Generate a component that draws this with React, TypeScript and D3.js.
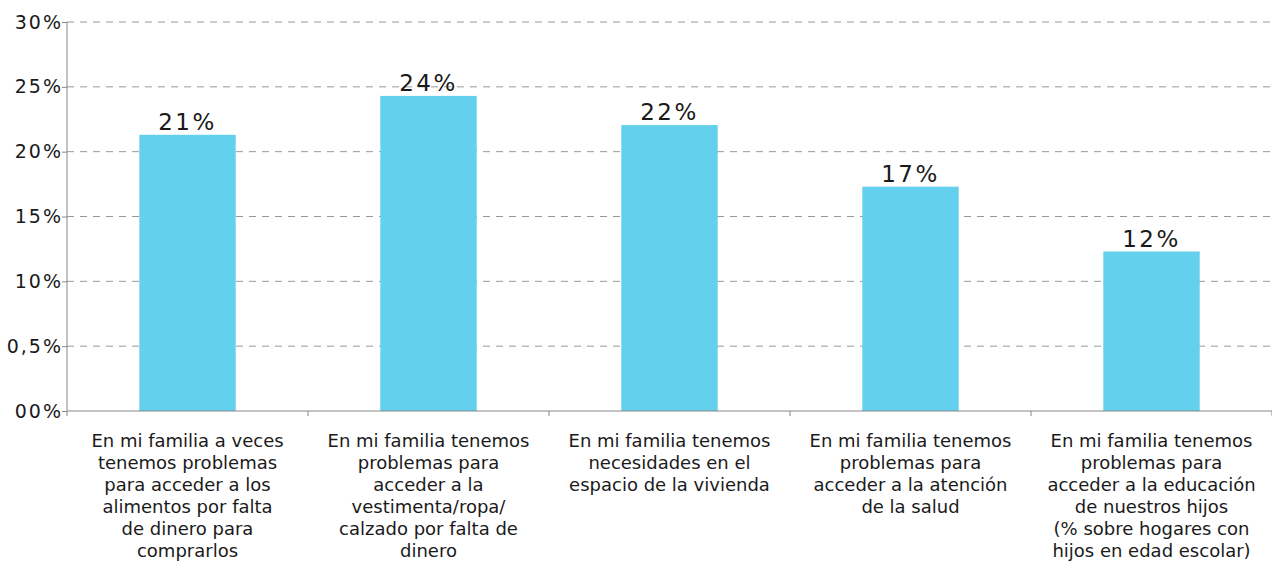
import React, { useEffect, useRef } from 'react';
import * as d3 from 'd3';

const categories = [
  ['En mi familia a veces', 'tenemos problemas', 'para acceder a los', 'alimentos por falta', 'de dinero para', 'comprarlos'],
  ['En mi familia tenemos', 'problemas para', 'acceder a la', 'vestimenta/ropa/', 'calzado por falta de', 'dinero'],
  ['En mi familia tenemos', 'necesidades en el', 'espacio de la vivienda'],
  ['En mi familia tenemos', 'problemas para', 'acceder a la atención', 'de la salud'],
  ['En mi familia tenemos', 'problemas para', 'acceder a la educación', 'de nuestros hijos', '(% sobre hogares con', 'hijos en edad escolar)'],
];
const values = [21.3, 24.3, 22.05, 17.3, 12.3];
const valueLabels = ['21%', '24%', '22%', '17%', '12%'];
const yTicks = [0, 5, 10, 15, 20, 25, 30];
const yTickLabels = ['00%', '0,5%', '10%', '15%', '20%', '25%', '30%'];

const W = 1272;
const H = 568;
const margin = { top: 22, right: 0, bottom: 157, left: 67 };

const App = () => {
  const ref = useRef<SVGSVGElement>(null);

  useEffect(() => {
    const svg = d3.select(ref.current);
    svg.selectAll('*').remove();

    const x = d3.scaleBand<number>()
      .domain(values.map((_, i) => i))
      .range([margin.left, W - margin.right])
      .paddingInner(0.6)
      .paddingOuter(0.3);

    const y = d3.scaleLinear()
      .domain([0, 30])
      .range([H - margin.bottom, margin.top]);

    // gridlines
    svg.append('g')
      .selectAll('line')
      .data(yTicks.filter(d => d > 0))
      .enter()
      .append('line')
      .attr('x1', margin.left)
      .attr('x2', W - margin.right)
      .attr('y1', d => y(d))
      .attr('y2', d => y(d))
      .attr('stroke', '#999')
      .attr('stroke-width', 1)
      .attr('stroke-dasharray', '7,6');

    // bars
    svg.append('g')
      .selectAll('rect')
      .data(values)
      .enter()
      .append('rect')
      .attr('x', (_, i) => x(i)!)
      .attr('y', d => y(d))
      .attr('width', x.bandwidth())
      .attr('height', d => y(0) - y(d))
      .attr('fill', '#63d0ee');

    // value labels
    svg.append('g')
      .selectAll('text')
      .data(values)
      .enter()
      .append('text')
      .attr('x', (_, i) => x(i)! + x.bandwidth() / 2)
      .attr('y', d => y(d) - 5)
      .attr('text-anchor', 'middle')
      .attr('font-family', 'DejaVu Sans')
      .attr('font-size', 23)
      .attr('letter-spacing', 2.5)
      .attr('fill', '#1a1a1a')
      .text((_, i) => valueLabels[i]);

    // y axis
    const yAxis = svg.append('g')
      .attr('transform', `translate(${margin.left},0)`)
      .call(d3.axisLeft(y).tickValues(yTicks).tickSize(5).tickFormat((_, i) => yTickLabels[i]));
    yAxis.select('.domain').attr('stroke', '#888').attr('d', `M0,${y(30)}V${y(0)}`);
    yAxis.selectAll('.tick line').attr('stroke', '#888');
    yAxis.selectAll('.tick text')
      .attr('x', -4)
      .attr('font-family', 'DejaVu Sans')
      .attr('font-size', 19)
      .attr('letter-spacing', 2)
      .attr('fill', '#1a1a1a');

    // x axis
    const bounds = d3.range(values.length + 1).map(i => margin.left + i * (W - margin.left - margin.right) / values.length);
    const xAxis = svg.append('g');
    xAxis.append('line')
      .attr('x1', margin.left)
      .attr('x2', W - margin.right)
      .attr('y1', y(0))
      .attr('y2', y(0))
      .attr('stroke', '#888');
    xAxis.selectAll('line.tk')
      .data(bounds)
      .enter()
      .append('line')
      .attr('class', 'tk')
      .attr('x1', d => d)
      .attr('x2', d => d)
      .attr('y1', y(0))
      .attr('y2', y(0) + 5)
      .attr('stroke', '#888');

    const labels = xAxis.selectAll('text.cat')
      .data(categories)
      .enter()
      .append('text')
      .attr('class', 'cat')
      .attr('text-anchor', 'middle')
      .attr('font-family', 'DejaVu Sans')
      .attr('font-size', 18)
      .attr('fill', '#1a1a1a');
    labels.each(function (lines, i) {
      d3.select(this).selectAll('tspan')
        .data(lines)
        .enter()
        .append('tspan')
        .attr('x', x(i)! + x.bandwidth() / 2)
        .attr('y', (_, j) => y(0) + 36 + j * 22)
        .text(d => d);
    });
  }, []);

  return (
    <svg ref={ref} width={W} height={H} style={{ position: 'absolute', left: 0, top: 0, background: '#fff' }} />
  );
};

export default App;
